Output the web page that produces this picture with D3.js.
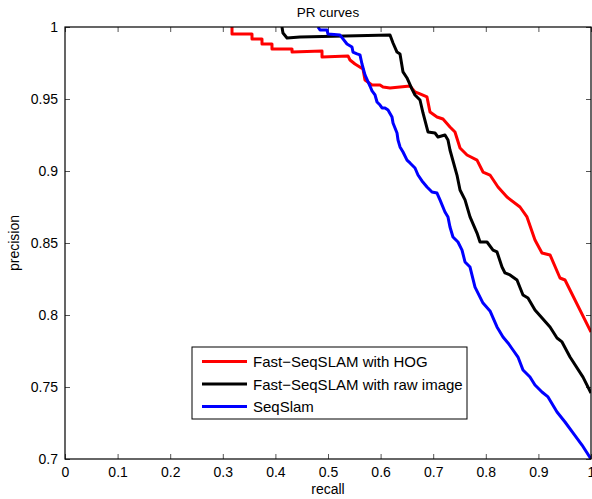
<!DOCTYPE html>
<html>
  <head>
    <title>PR curves</title>
    <script src="https://cdn.jsdelivr.net/npm/d3@7/dist/d3.min.js"></script>
    <style>
      body { margin: 0; background: #fff; }
      text { font-family: "Liberation Sans", Arial, Helvetica, sans-serif; }
    </style>
  </head>
  <body>
    <svg width="592" height="499"></svg>
    <script>

      // recall / precision
      const hogRecall = [0.3175,0.3175,0.3555,0.3555,0.3745,0.3745,0.3935,0.3935,0.4316,0.4316,0.4886,0.4886,0.538,0.5418,0.5513,0.5665,0.5703,0.5837,0.5989,0.6046,0.6179,0.6559,0.6654,0.6749,0.6882,0.6939,0.7072,0.7186,0.7319,0.7414,0.751,0.7643,0.7833,0.7947,0.808,0.8232,0.8403,0.865,0.8783,0.8935,0.9068,0.9221,0.9411,0.9506,1.0];
      const hogPrecision = [1.0,0.9951,0.9951,0.9917,0.9917,0.9882,0.9882,0.9847,0.9847,0.9826,0.9833,0.9792,0.9799,0.9771,0.9743,0.9708,0.9632,0.9597,0.9597,0.9583,0.9576,0.959,0.9549,0.9535,0.9514,0.941,0.9375,0.9361,0.9306,0.9271,0.916,0.9111,0.9076,0.8993,0.8972,0.8889,0.8819,0.875,0.8681,0.8521,0.8431,0.8417,0.8257,0.8243,0.7882];

      const rawRecall = [0.4125,0.4144,0.4221,0.4468,0.6179,0.6236,0.6312,0.6369,0.6426,0.6502,0.6597,0.6654,0.6749,0.6806,0.6901,0.7034,0.7091,0.7224,0.7281,0.7319,0.7452,0.751,0.7605,0.77,0.7833,0.789,0.8023,0.8137,0.8213,0.8308,0.8365,0.846,0.8593,0.8707,0.8802,0.8935,0.9221,0.9354,0.9449,0.9601,0.9848,1.0];
      const rawPrecision = [1.0,0.9958,0.9924,0.9931,0.9944,0.9889,0.9826,0.9813,0.9688,0.9646,0.9569,0.9528,0.9493,0.9403,0.9271,0.9264,0.9236,0.925,0.9215,0.9146,0.8972,0.8868,0.8799,0.8681,0.8569,0.8507,0.8507,0.8451,0.8438,0.8333,0.8292,0.8278,0.8243,0.8139,0.8118,0.8035,0.7917,0.784,0.7813,0.7708,0.7569,0.7458];

      const seqRecall = [0.481,0.4848,0.4981,0.5,0.5228,0.5285,0.5361,0.5456,0.5475,0.5551,0.5608,0.5646,0.5703,0.5798,0.5837,0.5894,0.5932,0.5989,0.6027,0.6084,0.6141,0.6217,0.6236,0.6312,0.6331,0.6369,0.6426,0.6502,0.6559,0.6654,0.6711,0.6787,0.6882,0.6977,0.7072,0.7129,0.7224,0.7281,0.7319,0.7376,0.7471,0.7548,0.7605,0.77,0.7795,0.7947,0.808,0.8213,0.8327,0.8422,0.8517,0.8612,0.8707,0.884,0.8935,0.9068,0.9183,0.9354,0.9506,0.9658,0.9829,1.0];
      const seqPrecision = [1.0,0.9979,0.9979,0.9951,0.9944,0.9917,0.9882,0.9861,0.9826,0.9813,0.9806,0.9743,0.9667,0.959,0.9556,0.9528,0.9479,0.9458,0.9438,0.9438,0.9424,0.9375,0.9333,0.9264,0.9215,0.9167,0.9132,0.9076,0.9056,0.9021,0.8972,0.8931,0.8889,0.8854,0.8847,0.8799,0.8715,0.8681,0.8611,0.8542,0.8507,0.8451,0.8368,0.8333,0.8194,0.8083,0.8028,0.7917,0.7847,0.7806,0.7757,0.7708,0.7618,0.7569,0.7514,0.7465,0.7431,0.7326,0.7257,0.7181,0.7097,0.7];

      const seriesNames = ["Fast\u2212SeqSLAM with HOG", "Fast\u2212SeqSLAM with raw image", "SeqSlam"];
      const seriesColors = ["#ff0000", "#000000", "#0000ff"];

      const xTicks = [0,0.1,0.2,0.3,0.4,0.5,0.6,0.7,0.8,0.9,1];
      const yTicks = [0.7,0.75,0.8,0.85,0.9,0.95,1];

      const series = [
        {name: seriesNames[0], color: seriesColors[0], pts: hogRecall.map((r,i) => [r, hogPrecision[i]])},
        {name: seriesNames[1], color: seriesColors[1], pts: rawRecall.map((r,i) => [r, rawPrecision[i]])},
        {name: seriesNames[2], color: seriesColors[2], pts: seqRecall.map((r,i) => [r, seqPrecision[i]])}
      ];

      const svg = d3.select("svg");
      const margin = {left: 65, top: 27, right: 1, bottom: 40};
      const width = 592 - margin.left - margin.right;
      const height = 499 - margin.top - margin.bottom;

      const x = d3.scaleLinear().domain([0,1]).range([0,width]);
      const y = d3.scaleLinear().domain([0.7,1]).range([height,0]);

      const g = svg.append("g").attr("transform", `translate(${margin.left},${margin.top})`);

      g.append("clipPath").attr("id","plotclip")
        .append("rect").attr("x",0).attr("y",0).attr("width",width).attr("height",height);

      // ticks (inward, on all four sides)
      const fmt = d => d3.format("")(+d.toFixed(2));
      const tickLen = 5;

      const xb = g.append("g").attr("transform", `translate(0,${height})`)
        .call(d3.axisBottom(x).tickValues(xTicks).tickFormat(fmt).tickSizeInner(-tickLen).tickSizeOuter(0).tickPadding(8));
      const xt = g.append("g")
        .call(d3.axisTop(x).tickValues(xTicks).tickFormat("").tickSizeInner(-tickLen).tickSizeOuter(0));
      const yl = g.append("g")
        .call(d3.axisLeft(y).tickValues(yTicks).tickFormat(fmt).tickSizeInner(-tickLen).tickSizeOuter(0).tickPadding(7));
      const yr = g.append("g").attr("transform", `translate(${width},0)`)
        .call(d3.axisRight(y).tickValues(yTicks).tickFormat("").tickSizeInner(-tickLen).tickSizeOuter(0));

      [xb, xt, yl, yr].forEach(a => {
        a.select(".domain").remove();
        a.selectAll(".tick line").attr("stroke", "#555");
        a.selectAll("text").attr("font-size", 14).attr("fill", "#000")
          .style("font-family", '"Liberation Sans", Arial, sans-serif');
      });

      const line = d3.line().x(d => x(d[0])).y(d => y(d[1]));

      g.append("g").attr("clip-path", "url(#plotclip)")
        .selectAll("path").data(series).enter()
        .append("path")
          .attr("d", d => line(d.pts))
          .attr("fill", "none")
          .attr("stroke", d => d.color)
          .attr("stroke-width", 3)
          .attr("stroke-linejoin", "round");

      // box
      g.append("rect").attr("x",0).attr("y",0).attr("width",width).attr("height",height)
        .attr("fill","none").attr("stroke","#000").attr("stroke-width",1.2);

      // title and axis labels
      g.append("text").attr("x", width/2).attr("y", -10).attr("text-anchor","middle")
        .attr("font-size", 13.5).text("PR curves");
      g.append("text").attr("x", width/2).attr("y", height + 35).attr("text-anchor","middle")
        .attr("font-size", 14).text("recall");
      g.append("text").attr("transform", `translate(${-46},${height/2}) rotate(-90)`)
        .attr("text-anchor","middle").attr("font-size", 14).text("precision");

      // legend
      const legend = g.append("g").attr("transform", `translate(${192-margin.left},${347-margin.top})`);
      legend.append("rect").attr("x",0).attr("y",0).attr("width",275).attr("height",72)
        .attr("fill","#fff").attr("stroke","#000").attr("stroke-width",1);
      const rows = legend.selectAll("g.row").data(series).enter()
        .append("g").attr("class","row")
        .attr("transform", (d,i) => `translate(0,${14.5 + i*22.5})`);
      rows.append("line").attr("x1",10).attr("x2",55).attr("y1",0).attr("y2",0)
        .attr("stroke", d => d.color).attr("stroke-width",3);
      rows.append("text").attr("x",61).attr("y",5.5).attr("font-size",15).text(d => d.name);

    </script>
  </body>
</html>
